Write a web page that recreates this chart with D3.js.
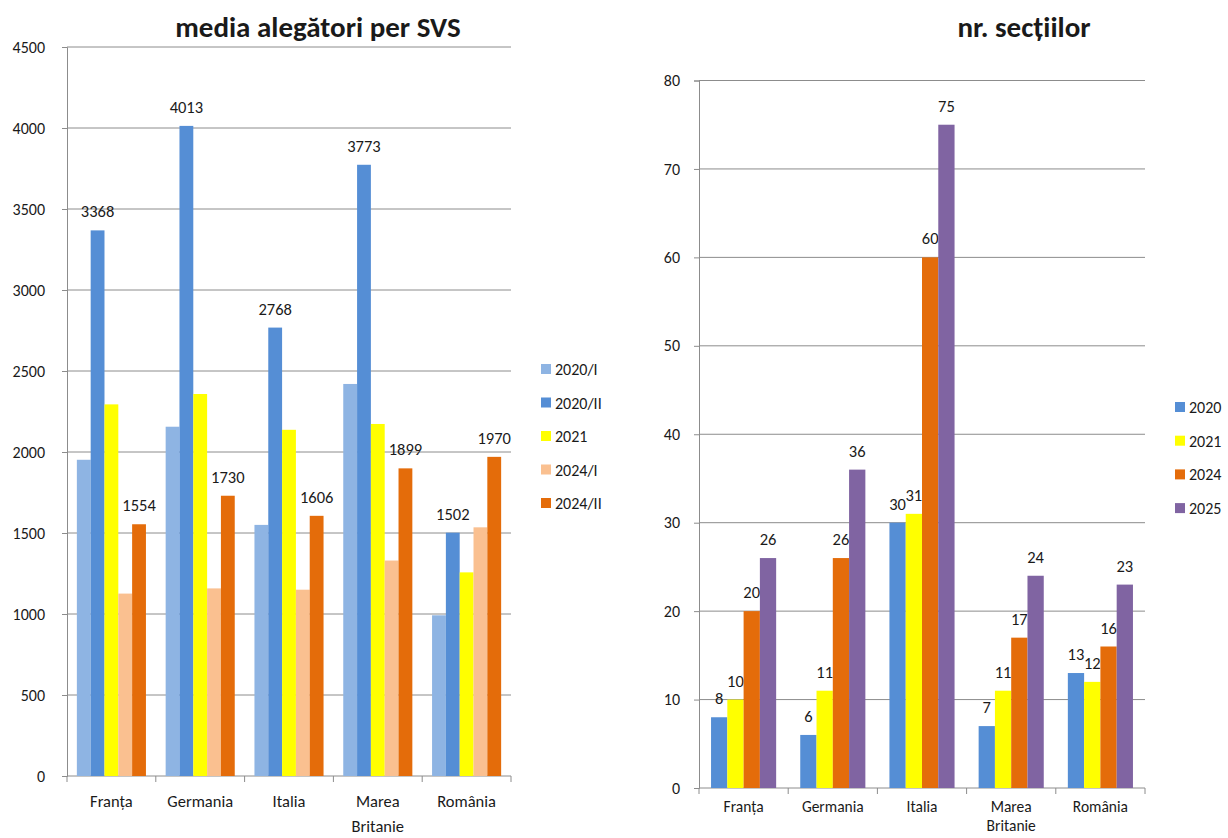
<!DOCTYPE html>
<html><head><meta charset="utf-8">
<script src="https://cdn.jsdelivr.net/npm/d3@7/dist/d3.min.js"></script>
<style>
body{margin:0;background:#fff;}
svg text{font-family:Calibri,Carlito,Lato,sans-serif;fill:#1a1a1a;}
</style></head><body>
<svg id="c" width="1228" height="838"></svg>
<script>
const categories = ["Franța","Germania","Italia","Marea Britanie","România"];
// left chart: media alegători per SVS
const leftSeries = ["2020/I","2020/II","2021","2024/I","2024/II"];
const v2020I  = [1952, 2156, 1550, 2420, 992];
const v2020II = [3368, 4013, 2768, 3773, 1502];
const v2021L  = [2294, 2358, 2137, 2173, 1257];
const v2024I  = [1126, 1158, 1150, 1330, 1535];
const v2024II = [1554, 1730, 1606, 1899, 1970];
const leftLabeled = [false, true, false, false, true];
const leftTicks = [0,500,1000,1500,2000,2500,3000,3500,4000,4500];
// right chart: nr. secțiilor
const rightSeries = ["2020","2021","2024","2025"];
const s2020 = [8, 6, 30, 7, 13];
const s2021 = [10, 11, 31, 11, 12];
const s2024 = [20, 26, 60, 17, 16];
const s2025 = [26, 36, 75, 24, 23];
const rightTicks = [0,10,20,30,40,50,60,70,80];

const leftColors = ["#8EB4E3","#558ED5","#FFFF00","#FAC090","#E46C0A"];
const rightColors = ["#558ED5","#FFFF00","#E46C0A","#8064A2"];

const svg = d3.select("#c");

function drawChart(opt){
  const g = svg.append("g");
  const x = d3.scaleBand().domain(categories).range([opt.x0, opt.x1]).paddingInner(opt.pi).paddingOuter(opt.po);
  const xs = d3.scaleBand().domain(opt.series).range([0, x.bandwidth()]);
  const y = d3.scaleLinear().domain([0, opt.max]).range([opt.y0, opt.y1]);
  g.selectAll(".grid").data(opt.ticks.slice(1)).join("line")
    .attr("x1", opt.x0).attr("x2", opt.x1)
    .attr("y1", d=>y(d)).attr("y2", d=>y(d))
    .attr("stroke","#8c8c8c").attr("stroke-width",1);
  const ya = d3.axisLeft(y).tickValues(opt.ticks).tickFormat(d3.format("d")).tickSize(5).tickPadding(opt.tp);
  const yg = g.append("g").attr("transform",`translate(${opt.x0},0)`).call(ya);
  yg.select(".domain").attr("stroke","#8c8c8c");
  yg.selectAll(".tick line").attr("stroke","#8c8c8c");
  yg.selectAll(".tick text").style("font-size","16px").attr("fill","#1a1a1a");
  g.append("line").attr("x1",opt.x0).attr("x2",opt.x1).attr("y1",opt.y0).attr("y2",opt.y0).attr("stroke","#8c8c8c");
  const bounds = d3.range(categories.length+1).map(i=>opt.x0 + i*(opt.x1-opt.x0)/categories.length);
  g.selectAll(".bt").data(bounds).join("line")
    .attr("x1",d=>d).attr("x2",d=>d).attr("y1",opt.y0).attr("y2",opt.y0+6).attr("stroke","#8c8c8c");
  opt.series.forEach((s,si)=>{
    const vals = opt.values[si];
    g.selectAll(null).data(vals).join("rect")
      .attr("x",(d,i)=>x(categories[i])+xs(s))
      .attr("width",xs.bandwidth())
      .attr("y",d=>y(d)).attr("height",d=>opt.y0-y(d))
      .attr("fill",opt.colors[si]);
    if(opt.labeled[si]){
      g.selectAll(null).data(vals).join("text")
        .attr("x",(d,i)=>x(categories[i])+xs(s)+xs.bandwidth()/2)
        .attr("y",d=>y(d)-13)
        .attr("text-anchor","middle")
        .style("font-size","16.5px")
        .text(d=>d);
    }
  });
  categories.forEach(c=>{
    const words = c.split(" ");
    const cx = x(c)+x.bandwidth()/2;
    const t = g.append("text").attr("x",cx).attr("y",opt.cy)
      .attr("text-anchor","middle").style("font-size",opt.cfs);
    words.forEach((w,i)=>t.append("tspan").attr("x",cx).attr("dy",i?opt.cdy:0).text(w));
  });
  g.append("text").attr("x",opt.tx).attr("y",opt.ty).attr("text-anchor","middle")
    .style("font-size","29px").style("font-weight","bold").attr("fill","#000").text(opt.title);
  opt.series.forEach((s,si)=>{
    const ly = opt.ly0 + si*opt.lstep;
    g.append("rect").attr("x",opt.lx).attr("y",ly-5).attr("width",10).attr("height",10).attr("fill",opt.colors[si]);
    g.append("text").attr("x",opt.lx+14).attr("y",ly+6).style("font-size","16px").text(s);
  });
}

drawChart({
  series:leftSeries, values:[v2020I,v2020II,v2021L,v2024I,v2024II], colors:leftColors,
  labeled:leftLabeled, max:4500, ticks:leftTicks, tp:17,
  x0:67, x1:511, y0:776, y1:47, pi:0.222, po:0.111,
  cy:807, cdy:25, cfs:"16.5px",
  title:"media alegători per SVS", tx:318, ty:37,
  lx:541, ly0:369, lstep:33.5
});
drawChart({
  series:rightSeries, values:[s2020,s2021,s2024,s2025], colors:rightColors,
  labeled:[true,true,true,true], max:80, ticks:rightTicks, tp:14,
  x0:699, x1:1145, y0:788, y1:80.5, pi:0.27, po:0.135,
  cy:812, cdy:19, cfs:"15.5px",
  title:"nr. secțiilor", tx:1024, ty:37,
  lx:1175, ly0:407, lstep:33.7
});
</script>
</body></html>
